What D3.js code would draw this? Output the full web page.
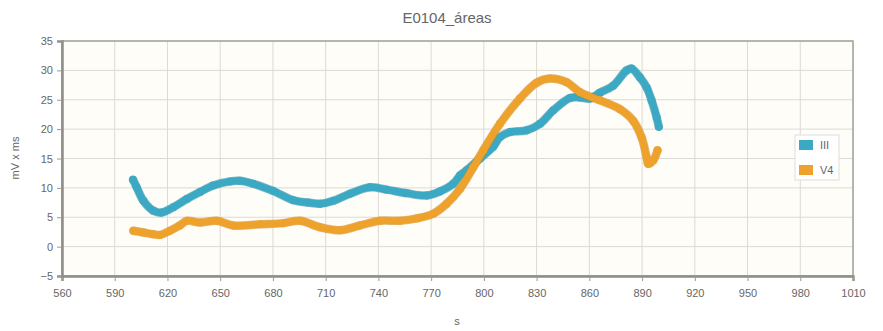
<!DOCTYPE html>
<meta charset="utf-8">
<html>
<head>
<script src="https://d3js.org/d3.v7.min.js"></script>
<style>
  body { margin: 0; background: #fff; }
  text { font-family: "Liberation Sans", Arial, sans-serif; }
</style>
</head>
<body>
<div id="chart"></div>
<script>
    // series III (teal)
    const s_III = [600.4, 602.5, 606.3, 612, 616.7, 623.3, 631, 638.5, 646, 655.6, 661, 668.8, 680, 691.6, 700, 706.8, 714.3, 723.8, 735.2, 744.7, 756, 767.5, 775, 782.6, 786.4, 790.2, 797.8, 805.3, 809, 814.8, 824.3, 831.9, 839.5, 849, 854.6, 860.3, 866, 873.6, 881.2, 884, 888.8, 892.6, 895.4, 898.3, 899.5];
    const v_III = [11.4, 10.1, 7.8, 6.1, 5.8, 6.7, 8.1, 9.3, 10.4, 11.1, 11.2, 10.7, 9.5, 7.9, 7.5, 7.3, 7.8, 9.0, 10.1, 9.7, 9.1, 8.7, 9.4, 10.7, 12.1, 13.0, 15.0, 17.0, 18.6, 19.5, 19.8, 20.9, 23.2, 25.3, 25.4, 25.2, 26.2, 27.4, 30.0, 30.3, 28.8, 27.1, 24.9, 22.0, 20.4];

    // series V4 (orange)
    const s_V4 = [600.6, 606.3, 612, 615.7, 621.4, 627, 631, 638.5, 648, 657.4, 672.6, 685.9, 695.4, 706.8, 718.1, 729.5, 740.9, 752.3, 761.8, 771.2, 778.8, 786.4, 794, 799.7, 809.1, 820.5, 830, 837.6, 847, 854.6, 866, 877.4, 885, 889.7, 892.6, 893.5, 896.4, 898.8];
    const v_V4 = [2.7, 2.4, 2.1, 2.0, 2.7, 3.6, 4.4, 4.1, 4.4, 3.6, 3.8, 4.0, 4.4, 3.3, 2.8, 3.6, 4.4, 4.4, 4.8, 5.6, 7.3, 9.8, 13.5, 16.4, 20.9, 25.2, 27.9, 28.6, 28.0, 26.3, 24.9, 23.4, 21.4, 18.6, 15.2, 14.1, 14.7, 16.4];

    const seriesNames = ["III", "V4"];
    const seriesColors = ["#3ba9c3", "#eea22b"];
    const xTicks = [560, 590, 620, 650, 680, 710, 740, 770, 800, 830, 860, 890, 920, 950, 980, 1010];
    const yTicks = [-5, 0, 5, 10, 15, 20, 25, 30, 35];

    const W = 883, H = 331;
    const margin = { top: 41, right: 30, bottom: 55, left: 62 };
    const width = W - margin.left - margin.right,
          height = H - margin.top - margin.bottom;

    const root = d3.select("#chart").append("svg")
        .attr("width", W).attr("height", H);

    // title
    root.append("text")
        .attr("x", 447).attr("y", 23)
        .attr("text-anchor", "middle")
        .attr("font-size", 15)
        .attr("fill", "#666")
        .text("E0104_áreas");

    const svg = root.append("g")
        .attr("transform", `translate(${margin.left},${margin.top})`);

    const x = d3.scaleLinear().domain([560, 1010]).range([0, width]);
    const y = d3.scaleLinear().domain([-5, 35]).range([height, 0]);

    // plot background
    svg.append("rect")
        .attr("width", width).attr("height", height)
        .attr("fill", "#fffdf8");

    // grid
    svg.append("g").selectAll("line").data(xTicks).join("line")
        .attr("x1", d => x(d)).attr("x2", d => x(d))
        .attr("y1", 0).attr("y2", height)
        .attr("stroke", "#dcdad4").attr("stroke-width", 1);
    svg.append("g").selectAll("line").data(yTicks).join("line")
        .attr("y1", d => y(d)).attr("y2", d => y(d))
        .attr("x1", 0).attr("x2", width)
        .attr("stroke", "#dcdad4").attr("stroke-width", 1);

    // frame
    svg.append("rect")
        .attr("width", width).attr("height", height)
        .attr("fill", "none")
        .attr("stroke", "#a3a39c").attr("stroke-width", 1.5);

    // axes
    const xAxis = svg.append("g")
        .attr("transform", `translate(0,${height})`)
        .call(d3.axisBottom(x).tickValues(xTicks).tickSize(5).tickPadding(8).tickFormat(d3.format("d")));
    const yAxis = svg.append("g")
        .call(d3.axisLeft(y).tickValues(yTicks).tickSize(5).tickPadding(4));
    [xAxis, yAxis].forEach(a => {
        a.select(".domain").attr("stroke", "#8f8f88").attr("stroke-width", 2.5);
        a.selectAll(".tick line").attr("stroke", "#9a9a93");
        a.selectAll(".tick text").attr("fill", "#666")
            .attr("font-size", 11)
            .attr("font-family", "'Liberation Sans', Arial, sans-serif");
    });

    // axis titles
    root.append("text")
        .attr("transform", "translate(19,158) rotate(-90)")
        .attr("text-anchor", "middle")
        .attr("font-size", 11).attr("fill", "#666")
        .text("mV x ms");
    root.append("text")
        .attr("x", 457).attr("y", 325)
        .attr("text-anchor", "middle")
        .attr("font-size", 11).attr("fill", "#666")
        .text("s");

    // series
    const line = d3.line()
        .x(d => x(d.s))
        .y(d => y(d.v))
        .curve(d3.curveCatmullRom);

    const allSeries = [
        s_III.map((s, i) => ({ s: s, v: v_III[i] })),
        s_V4.map((s, i) => ({ s: s, v: v_V4[i] }))
    ];

    allSeries.forEach((pts, i) => {
        const c = seriesColors[i];
        svg.append("path")
            .datum(pts)
            .attr("d", line)
            .attr("fill", "none")
            .attr("stroke", d3.color(c).darker(0.5))
            .attr("stroke-width", 8.5)
            .attr("stroke-linecap", "round")
            .attr("stroke-linejoin", "round")
            .attr("opacity", 0.6);
        svg.append("path")
            .datum(pts)
            .attr("d", line)
            .attr("fill", "none")
            .attr("stroke", c)
            .attr("stroke-width", 7)
            .attr("stroke-linecap", "round")
            .attr("stroke-linejoin", "round");
        svg.append("g").selectAll("circle").data(pts).join("circle")
            .attr("cx", d => x(d.s))
            .attr("cy", d => y(d.v))
            .attr("r", 4)
            .attr("fill", c);
    });

    // legend
    const lg = svg.append("g").attr("transform", `translate(${795 - margin.left},${135 - margin.top})`);
    lg.append("rect")
        .attr("width", 44).attr("height", 45)
        .attr("fill", "#fff").attr("stroke", "#ddd");
    seriesNames.forEach((n, i) => {
        lg.append("rect")
            .attr("x", 4).attr("y", 5 + i * 25)
            .attr("width", 14).attr("height", 10)
            .attr("fill", seriesColors[i]);
        lg.append("text")
            .attr("x", 25).attr("y", 14 + i * 25)
            .attr("font-size", 11).attr("fill", "#666")
            .text(n);
    });
</script>
</body>
</html>
